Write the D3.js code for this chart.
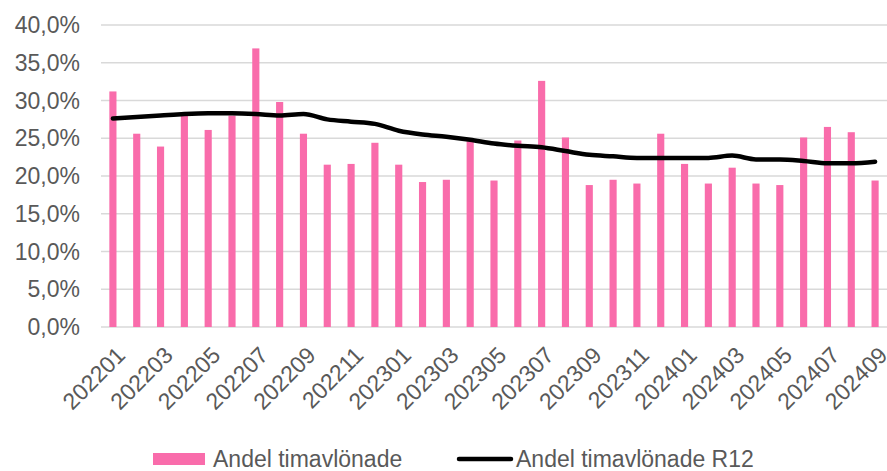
<!DOCTYPE html>
<html>
<head>
<meta charset="utf-8">
<script src="https://cdn.jsdelivr.net/npm/d3@7"></script>
<style>
  body { margin: 0; background: #fff; }
  text { font-family: "Liberation Sans", Arial, sans-serif; fill: #595959; }
</style>
</head>
<body>
<div id="chart"></div>
<script>
var months = ["202201","202202","202203","202204","202205","202206","202207","202208","202209","202210","202211","202212",
              "202301","202302","202303","202304","202305","202306","202307","202308","202309","202310","202311","202312",
              "202401","202402","202403","202404","202405","202406","202407","202408","202409"];

// Andel timavlönade (monthly)
var andel = [31.2, 25.6, 23.9, 28.1, 26.1, 28.0, 36.9, 29.8, 25.6, 21.5, 21.6, 24.4,
             21.5, 19.2, 19.5, 24.6, 19.4, 24.7, 32.6, 25.1, 18.8, 19.5, 19.0, 25.6,
             21.6, 19.0, 21.1, 19.0, 18.8, 25.1, 26.5, 25.8, 19.4];

// Andel timavlönade R12
var andelR12 = [27.6, 27.8, 28.0, 28.2, 28.3, 28.3, 28.2, 28.0, 28.2, 27.5, 27.2, 26.9,
                26.0, 25.5, 25.2, 24.8, 24.3, 24.0, 23.8, 23.3, 22.8, 22.6, 22.4, 22.4,
                22.4, 22.4, 22.7, 22.2, 22.2, 22.0, 21.7, 21.7, 21.9];

var yTicks = [0, 5, 10, 15, 20, 25, 30, 35, 40];

var width = 887, height = 471;
var margin = {top: 25, right: 0, bottom: 144, left: 101};

var svg = d3.select("#chart").append("svg")
    .attr("width", width)
    .attr("height", height);

var x = d3.scaleBand()
    .domain(months)
    .range([margin.left, width - margin.right])
    .paddingInner(0.7)
    .paddingOuter(0.35);

var y = d3.scaleLinear()
    .domain([0, 40])
    .range([height - margin.bottom, margin.top]);

var fmt = function (v) { return v.toFixed(1).replace(".", ",") + "%"; };

// gridlines
svg.append("g")
  .selectAll("line")
  .data(yTicks)
  .enter().append("line")
    .attr("x1", margin.left)
    .attr("x2", width - margin.right)
    .attr("y1", d => y(d))
    .attr("y2", d => y(d))
    .attr("stroke", "#d9d9d9")
    .attr("stroke-width", 1.5);

// y labels
svg.append("g")
  .selectAll("text")
  .data(yTicks)
  .enter().append("text")
    .attr("x", 80)
    .attr("y", d => y(d))
    .attr("dy", "0.35em")
    .attr("text-anchor", "end")
    .style("font-size", "23px")
    .text(fmt);

// bars
svg.append("g")
  .selectAll("rect")
  .data(andel)
  .enter().append("rect")
    .attr("x", (d, i) => x(months[i]))
    .attr("width", x.bandwidth())
    .attr("y", d => y(d))
    .attr("height", d => y(0) - y(d))
    .attr("fill", "#f96cab");

// R12 line
var line = d3.line()
    .x((d, i) => x(months[i]) + x.bandwidth() / 2)
    .y(d => y(d))
    .curve(d3.curveMonotoneX);

svg.append("path")
    .datum(andelR12)
    .attr("fill", "none")
    .attr("stroke", "#000")
    .attr("stroke-width", 4.5)
    .attr("stroke-linecap", "round")
    .attr("d", line);

// x labels, every other month
svg.append("g")
  .selectAll("text")
  .data(months.filter((d, i) => i % 2 == 0))
  .enter().append("text")
    .attr("transform", d => `translate(${x(d) + x.bandwidth() / 2 + 8},${y(0) + 24}) rotate(-45)`)
    .attr("text-anchor", "end")
    .attr("dy", "0.35em")
    .style("font-size", "23px")
    .text(d => d);

// legend
var lg = svg.append("g");
lg.append("rect")
    .attr("x", 153).attr("y", 453)
    .attr("width", 52).attr("height", 12)
    .attr("fill", "#f96cab");
lg.append("text")
    .attr("x", 213).attr("y", 459)
    .attr("dy", "0.35em")
    .style("font-size", "23px")
    .text("Andel timavlönade");
lg.append("line")
    .attr("x1", 459).attr("x2", 511)
    .attr("y1", 459).attr("y2", 459)
    .attr("stroke", "#000")
    .attr("stroke-width", 4.5)
    .attr("stroke-linecap", "round");
lg.append("text")
    .attr("x", 516).attr("y", 459)
    .attr("dy", "0.35em")
    .style("font-size", "23px")
    .text("Andel timavlönade R12");
</script>
</body>
</html>
